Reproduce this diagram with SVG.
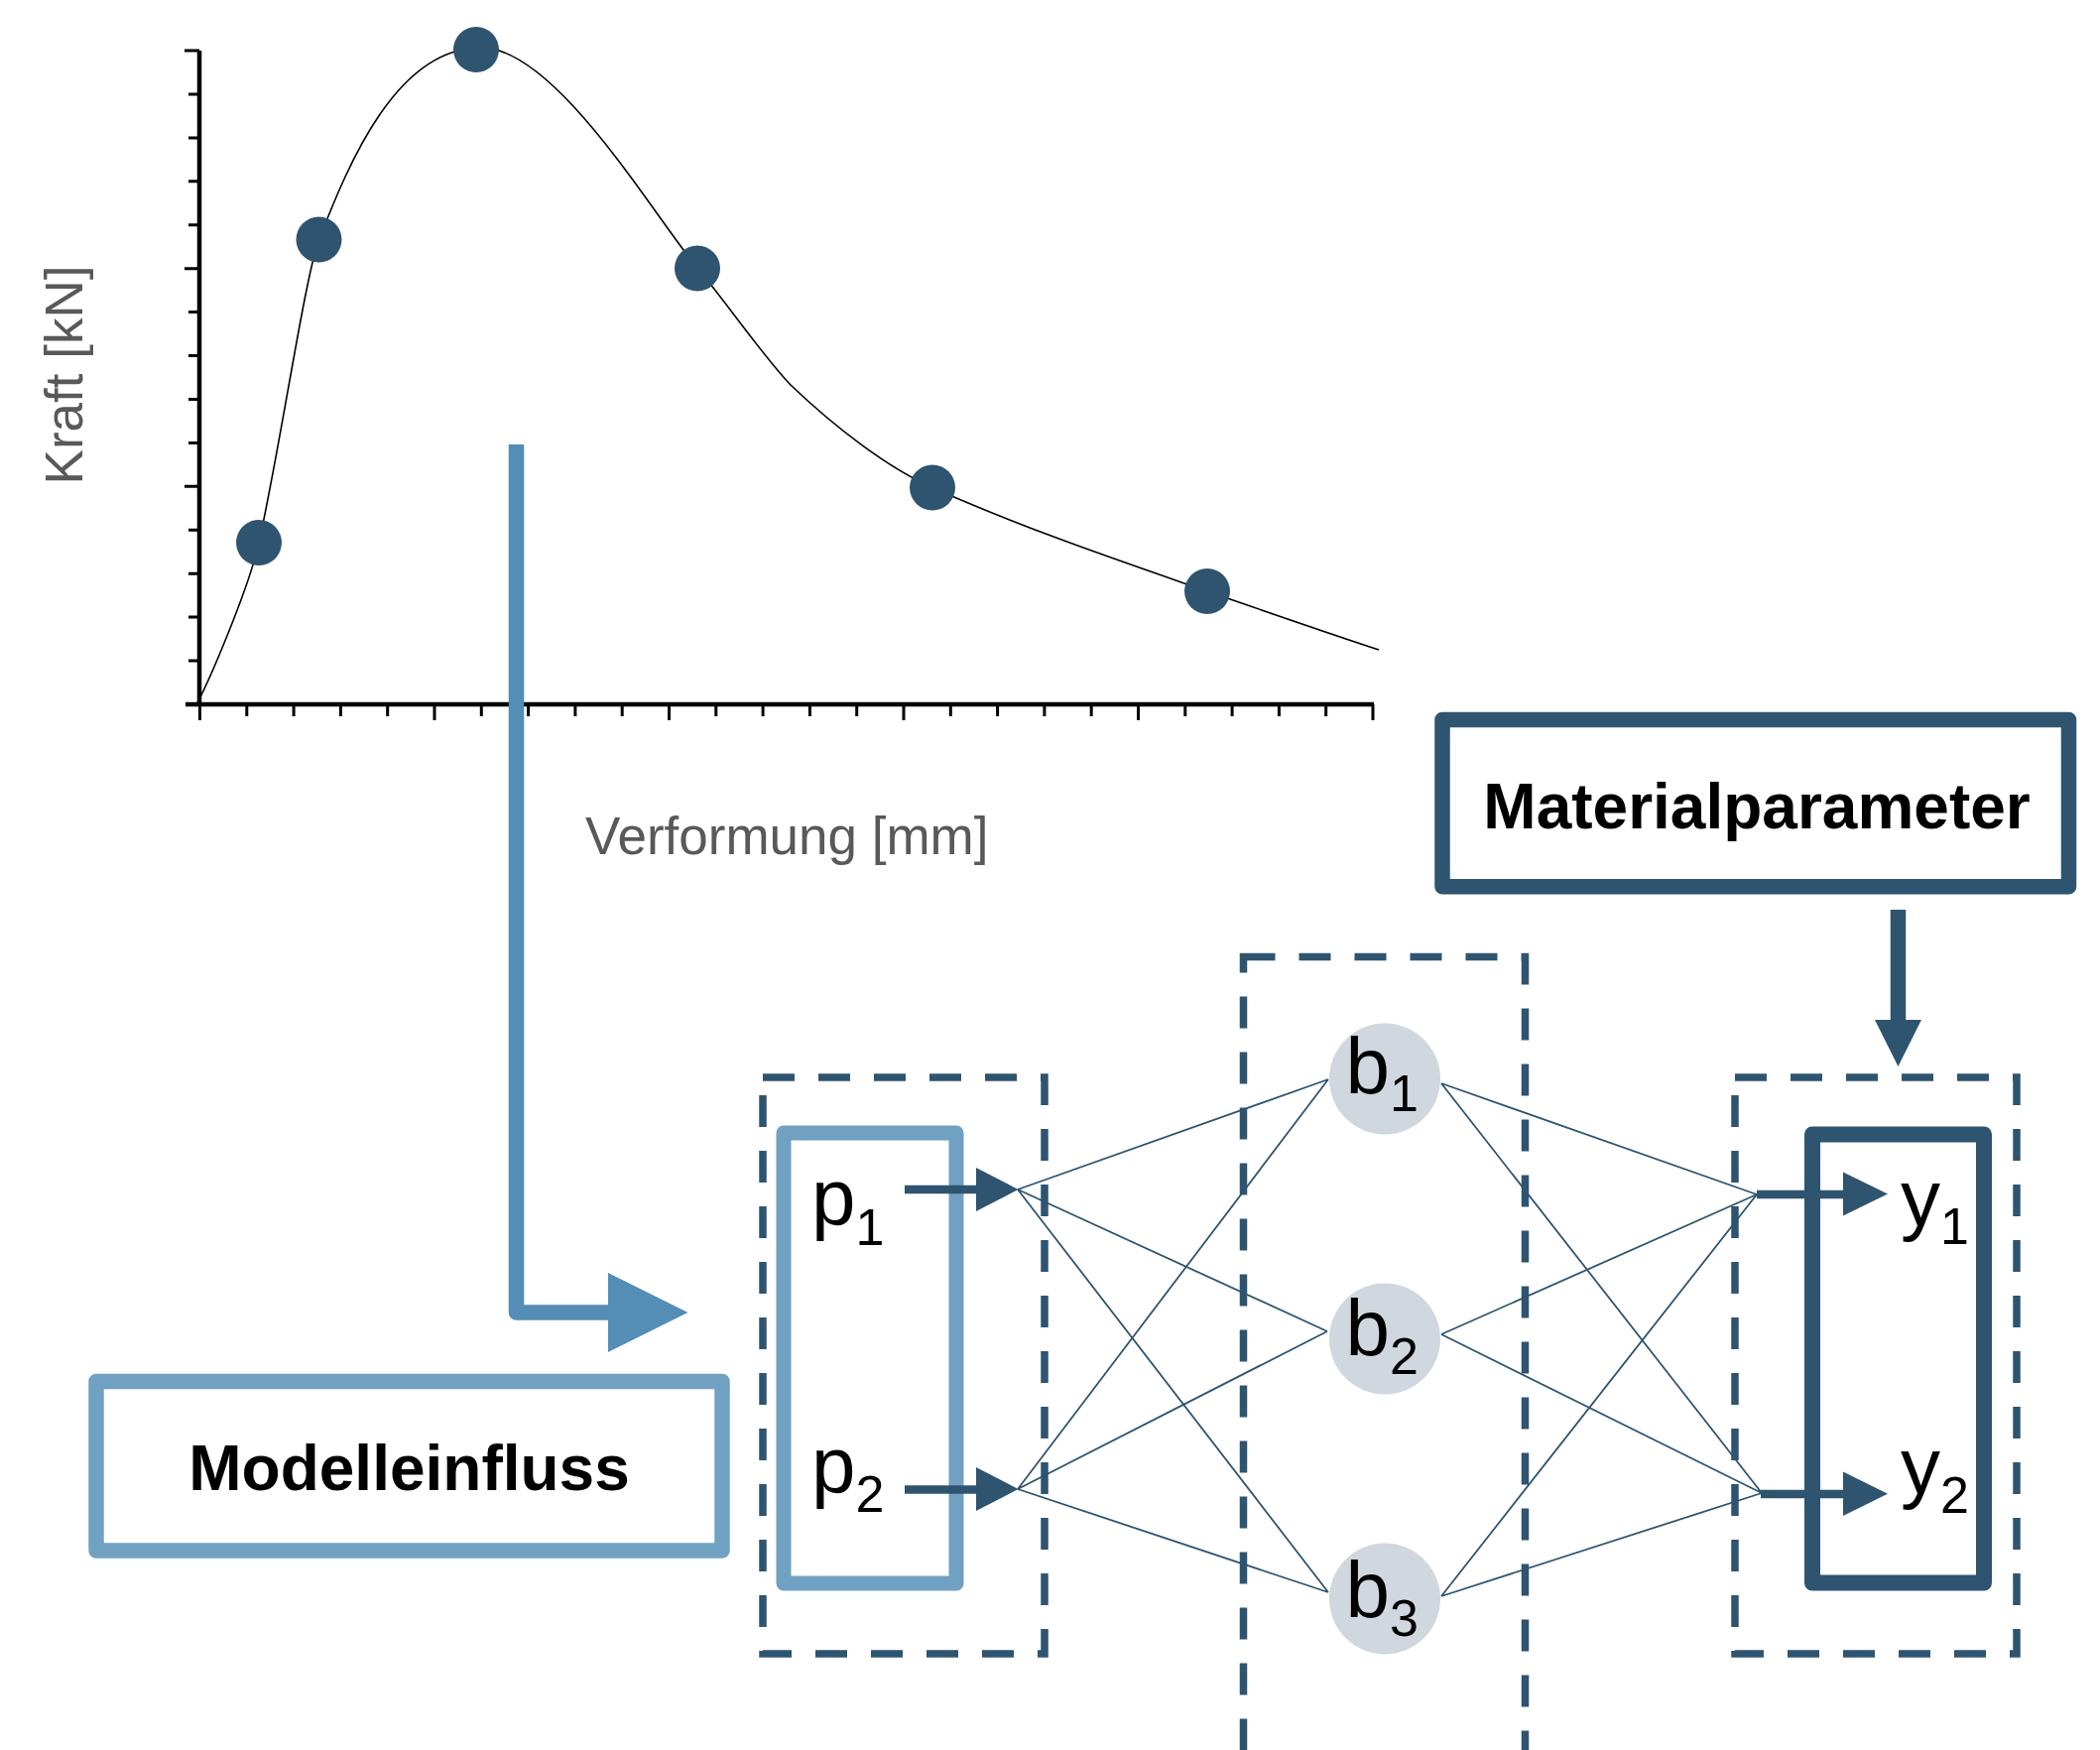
<svg xmlns="http://www.w3.org/2000/svg" width="2117" height="1764" viewBox="0 0 2117 1764">
  <style>
    .axis { stroke: #000; stroke-width: 4.5; fill: none; }
    .tick { stroke: #000; stroke-width: 3; fill: none; }
    .curve { stroke: #000; stroke-width: 1.6; fill: none; }
    .pt { fill: #2F5470; }
    .axlabel { font-family: "Liberation Sans", Arial, sans-serif; font-size: 53px; fill: #595959; }
    .boxtext { font-family: "Liberation Sans", Arial, sans-serif; font-weight: bold; fill: #000; }
    .sym { font-family: "Liberation Sans", Arial, sans-serif; font-size: 80px; fill: #000; }
    .sub { font-size: 52px; }
    .dash { fill: none; stroke: #2F5470; stroke-width: 7.5; stroke-dasharray: 32 24; }
    .conn { stroke: #2F5470; stroke-width: 1.8; fill: none; }
    .arr { stroke: #2F5470; stroke-width: 8.5; fill: none; }
    .head { fill: #2F5470; }
    .neuron { fill: #D0D7DE; }
  </style>

  <!-- Plot -->
  <g id="plot">
    <path class="axis" d="M201 51 V712 M187 710 H1385"/>
    <path class="tick" d="M186 51 H201 M190 94.9 H201 M190 138.9 H201 M190 182.8 H201 M190 226.7 H201 M186 270.7 H201 M190 314.6 H201 M190 358.5 H201 M190 402.5 H201 M190 446.4 H201 M186 490.3 H201 M190 534.3 H201 M190 578.2 H201 M190 622.1 H201 M190 666.1 H201"/>
    <path class="tick" d="M201.5 710 V726 M248.8 710 V722 M296.1 710 V722 M343.4 710 V722 M390.7 710 V722 M438 710 V726 M485.3 710 V722 M532.6 710 V722 M579.9 710 V722 M627.2 710 V722 M674.5 710 V726 M721.8 710 V722 M769.1 710 V722 M816.4 710 V722 M863.7 710 V722 M911 710 V726 M958.3 710 V722 M1005.6 710 V722 M1052.9 710 V722 M1100.2 710 V722 M1147.5 710 V726 M1194.8 710 V722 M1242.1 710 V722 M1289.4 710 V722 M1336.7 710 V722 M1384 710 V726"/>
    <path class="curve" d="M197 712 C211 687 251 592 261 547 C283 448 307.5 278.4 321.5 242 C351.5 164 400 48 485 48 C560 48 658 216 703 270 C733 306 767 356 797 388 C842 431 895 471.5 940 491.5 C1032 532.5 1125 564 1217 596 C1275 616 1332 636 1390 655"/>
    <circle class="pt" cx="261" cy="547" r="23"/>
    <circle class="pt" cx="321.5" cy="241.5" r="23"/>
    <circle class="pt" cx="480" cy="50" r="23"/>
    <circle class="pt" cx="703" cy="270.5" r="23"/>
    <circle class="pt" cx="940" cy="491.5" r="23"/>
    <circle class="pt" cx="1217" cy="596" r="23"/>
    <text class="axlabel" transform="translate(83 378) rotate(-90)" text-anchor="middle">Kraft [kN]</text>
    <text class="axlabel" x="590" y="861">Verformung [mm]</text>
  </g>

  <!-- Modelleinfluss arrow -->
  <g id="modell-arrow">
    <path d="M520.5 448 V1323 H616" fill="none" stroke="#548DB5" stroke-width="15.5" stroke-linejoin="round"/>
    <polygon points="613,1283 693.5,1323 613,1363" fill="#548DB5"/>
  </g>

  <!-- Modelleinfluss node -->
  <g id="modelleinfluss">
    <rect x="97" y="1392.5" width="631" height="170.5" fill="#fff" stroke="#70A1C2" stroke-width="15.5" stroke-linejoin="round"/>
    <text class="boxtext" x="412.5" y="1502" font-size="64" text-anchor="middle">Modelleinfluss</text>
  </g>

  <!-- Materialparameter node -->
  <g id="materialparameter">
    <rect x="1454" y="725.5" width="631.5" height="168.3" fill="#fff" stroke="#2F5470" stroke-width="15.5" stroke-linejoin="round"/>
    <text class="boxtext" x="1771" y="835" font-size="64" text-anchor="middle">Materialparameter</text>
  </g>

  <!-- Materialparameter arrow -->
  <g id="material-arrow">
    <line x1="1913.5" y1="917" x2="1913.5" y2="1030" stroke="#2F5470" stroke-width="15.5"/>
    <polygon points="1890,1028 1937,1028 1913.5,1075" fill="#2F5470"/>
  </g>

  <!-- Layer frames -->
  <g id="input-layer">
    <rect class="dash" x="769" y="1086" width="284" height="581"/>
    <rect x="790" y="1142" width="174" height="454" fill="none" stroke="#70A1C2" stroke-width="15" stroke-linejoin="round"/>
  </g>
  <g id="hidden-layer">
    <rect class="dash" x="1253.5" y="964.5" width="284" height="900"/>
  </g>
  <g id="output-layer">
    <rect class="dash" x="1749" y="1086" width="284" height="581"/>
    <rect x="1827" y="1143.5" width="173" height="452" fill="none" stroke="#2F5470" stroke-width="16" stroke-linejoin="round"/>
  </g>

  <!-- Connectors -->
  <g id="connectors">
    <path class="conn" d="M1026 1199 L1339 1088 M1026 1199 L1338 1342 M1026 1199 L1339 1605 M1026 1501 L1339 1088 M1026 1501 L1338 1342 M1026 1501 L1339 1605"/>
    <path class="conn" d="M1453 1092 L1771 1204 M1453 1092 L1776 1505 M1453 1345 L1771 1204 M1453 1345 L1776 1505 M1453 1609 L1771 1204 M1453 1609 L1776 1505"/>
    <line class="arr" x1="912" y1="1199" x2="988" y2="1199"/>
    <polygon class="head" points="984,1177 1026.5,1199 984,1221"/>
    <line class="arr" x1="912" y1="1501.5" x2="988" y2="1501.5"/>
    <polygon class="head" points="984,1479 1026.5,1501 984,1523"/>
    <line class="arr" x1="1771" y1="1204" x2="1862" y2="1204"/>
    <polygon class="head" points="1858,1181.5 1903,1203.5 1858,1225.5"/>
    <line class="arr" x1="1775" y1="1506" x2="1862" y2="1506"/>
    <polygon class="head" points="1858,1483.5 1903,1505.8 1858,1528"/>
  </g>

  <!-- Input labels -->
  <g id="p1"><text class="sym" x="818" y="1234">p<tspan class="sub" dy="21">1</tspan></text></g>
  <g id="p2"><text class="sym" x="818" y="1504">p<tspan class="sub" dy="20">2</tspan></text></g>

  <!-- Hidden neurons -->
  <g id="b1">
    <circle class="neuron" cx="1396" cy="1087.5" r="56"/>
    <text class="sym" x="1356.5" y="1101.5">b<tspan class="sub" dy="18.5">1</tspan></text>
  </g>
  <g id="b2">
    <circle class="neuron" cx="1396" cy="1349.5" r="56"/>
    <text class="sym" x="1356.5" y="1366">b<tspan class="sub" dy="18.5">2</tspan></text>
  </g>
  <g id="b3">
    <circle class="neuron" cx="1396" cy="1611.5" r="56"/>
    <text class="sym" x="1356.5" y="1630">b<tspan class="sub" dy="18.5">3</tspan></text>
  </g>

  <!-- Output labels -->
  <g id="y1"><text class="sym" x="1916" y="1235">y<tspan class="sub" dy="18.5">1</tspan></text></g>
  <g id="y2"><text class="sym" x="1916" y="1505">y<tspan class="sub" dy="20">2</tspan></text></g>
</svg>
